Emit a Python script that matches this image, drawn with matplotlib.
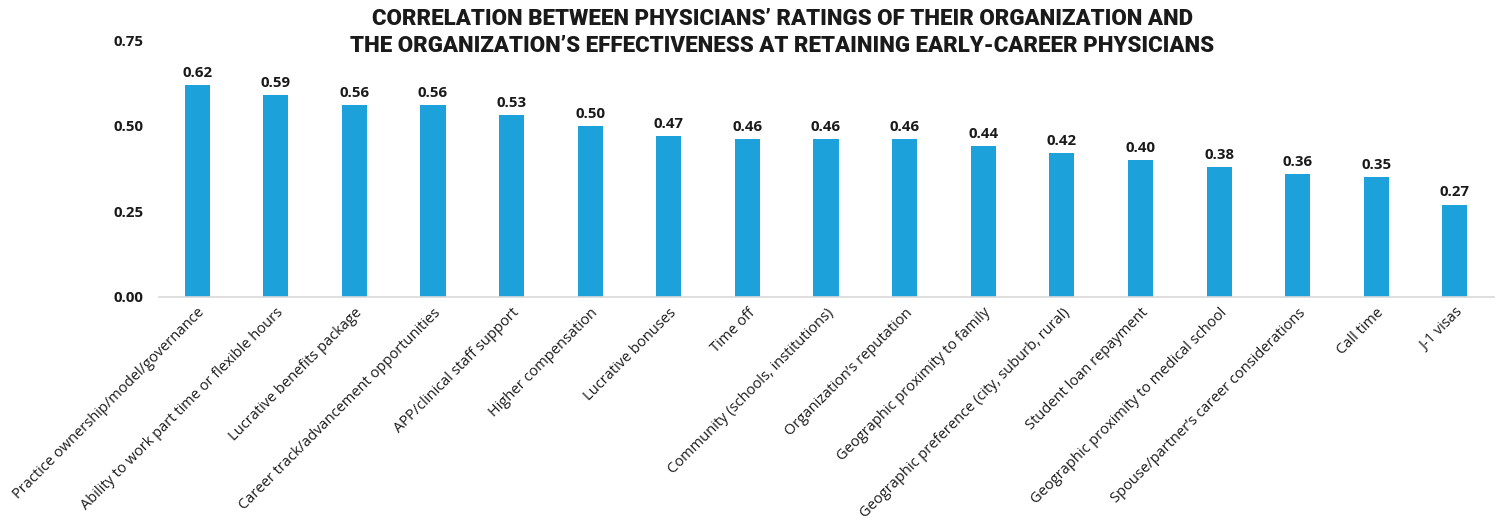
import matplotlib
matplotlib.use("Agg")
import matplotlib.pyplot as plt
import numpy as np

factors = [
    "Practice ownership/model/governance",
    "Ability to work part time or flexible hours",
    "Lucrative benefits package",
    "Career track/advancement opportunities",
    "APP/clinical staff support",
    "Higher compensation",
    "Lucrative bonuses",
    "Time off",
    "Community (schools, institutions)",
    "Organization\u2019s reputation",
    "Geographic proximity to family",
    "Geographic preference (city, suburb, rural)",
    "Student loan repayment",
    "Geographic proximity to medical school",
    "Spouse/partner\u2019s career considerations",
    "Call time",
    "J-1 visas",
]
correlations = [0.62, 0.59, 0.56, 0.56, 0.53, 0.50, 0.47, 0.46, 0.46,
                0.46, 0.44, 0.42, 0.40, 0.38, 0.36, 0.35, 0.27]
yticks = [0.00, 0.25, 0.50, 0.75]

plt.rcParams["font.family"] = ["Open Sans", "DejaVu Sans"]

fig = plt.figure(figsize=(15.04, 5.21), dpi=100)
ax = fig.add_axes([0.1055, 0.43, 0.888, 0.493])

x = np.arange(len(factors))
ax.bar(x, correlations, width=0.32, color="#1DA1DB")

for xi, v in zip(x, correlations):
    ax.text(xi, v + 0.015, f"{v:.2f}", ha="center", va="bottom",
            fontsize=10.8, fontweight="bold", color="#1a1a1a")

ax.set_xlim(-0.49, len(factors) - 0.5)
ax.set_ylim(0, 0.75)
ax.set_yticks(yticks)
ax.set_yticklabels([f"{t:.2f}" for t in yticks], fontsize=10.8,
                   fontweight="bold", color="#1a1a1a")
ax.set_xticks(x)
ax.set_xticklabels(factors, rotation=45, ha="right", rotation_mode="anchor",
                   fontsize=10.5, color="#1a1a1a")
ax.tick_params(axis="both", length=0)
ax.tick_params(axis="y", pad=11)
ax.tick_params(axis="x", pad=6)

for side in ["top", "right", "left"]:
    ax.spines[side].set_visible(False)
ax.spines["bottom"].set_color("#d9d9d9")
ax.spines["bottom"].set_linewidth(1.2)

fig.text(0.52, 0.984,
         "CORRELATION BETWEEN PHYSICIANS\u2019 RATINGS OF THEIR ORGANIZATION AND\n"
         "THE ORGANIZATION\u2019S EFFECTIVENESS AT RETAINING EARLY-CAREER PHYSICIANS",
         ha="center", va="top", fontsize=16, fontweight="black",
         family=["Roboto", "DejaVu Sans"], color="#1a1a1a", linespacing=1.25)

fig.savefig("out.png", dpi=100)
